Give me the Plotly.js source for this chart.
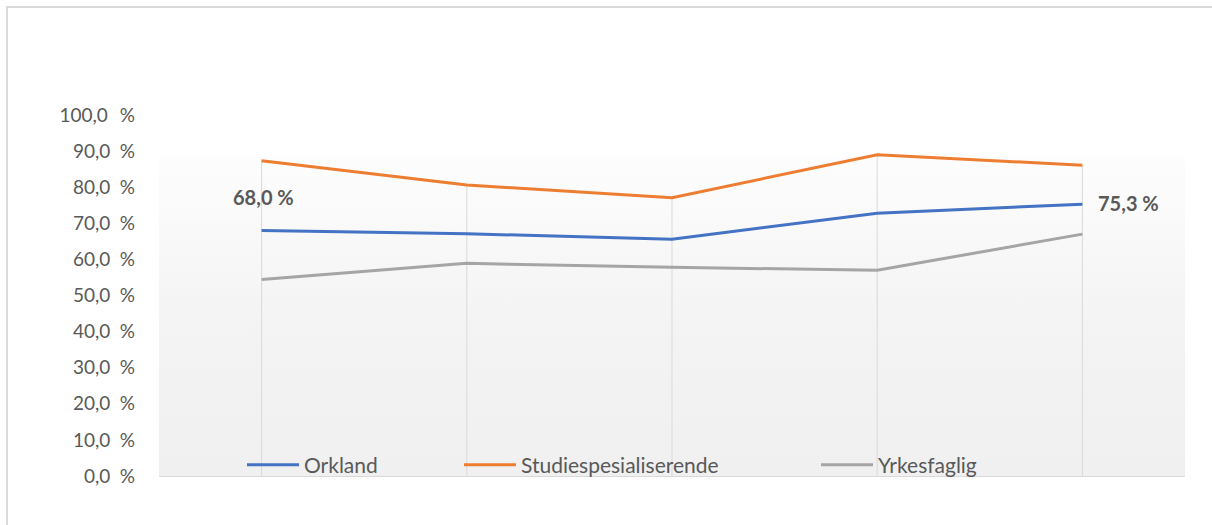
<!DOCTYPE html>
<html>
<head>
<meta charset="utf-8">
<script src="https://cdn.plot.ly/plotly-3.0.1.min.js"></script>
<style>
  html, body { margin: 0; padding: 0; background: #ffffff; }
  #wrap { position: relative; width: 1212px; height: 525px; overflow: hidden; }
  #chart { width: 1212px; height: 525px; }
  #frame { position: absolute; left: 6px; top: 6px; width: 1300px; height: 600px;
           border-top: 2px solid #dadada; border-left: 2px solid #dadada; pointer-events: none; }
</style>
</head>
<body>
<div id="wrap">
  <div id="chart"></div>
  <div id="frame"></div>
</div>
<script>
// Five measurement points along the x axis (no labels are shown)
const categories = [0, 1, 2, 3, 4];

// Share of students, in percent
const orkland = [68.0, 67.1, 65.6, 72.8, 75.3];
const studiespesialiserende = [87.3, 80.6, 77.1, 89.0, 86.1];
const yrkesfaglig = [54.4, 58.9, 57.8, 57.0, 67.0];

const seriesNames = ['Orkland', 'Studiespesialiserende', 'Yrkesfaglig'];
const yTicks = [0, 10, 20, 30, 40, 50, 60, 70, 80, 90, 100];

const colors = ['#4472C4', '#ED7D31', '#A5A5A5'];
const textColor = '#595959';
const fontFamily = 'Lato, "Open Sans", sans-serif';

const W = 1212, H = 525;
const M = { l: 159, r: 27, t: 115, b: 49 };
const plotW = W - M.l - M.r;
const plotH = H - M.t - M.b;
const px2paperX = px => (px - M.l) / plotW;
const px2paperY = py => (H - M.b - py) / plotH;

const allSeries = [orkland, studiespesialiserende, yrkesfaglig];

// Drop lines from the highest series at each point down to the axis
const dropX = [], dropY = [];
categories.forEach((c, i) => {
  const top = Math.max(...allSeries.map(s => s[i]));
  dropX.push(c, c, null);
  dropY.push(0, top, null);
});

const traces = [{
  x: dropX, y: dropY, type: 'scatter', mode: 'lines',
  line: { color: '#d9d9d9', width: 1 },
  hoverinfo: 'skip', showlegend: false
}];

const legendIds = ['legend', 'legend2', 'legend3'];
allSeries.forEach((s, k) => {
  traces.push({
    x: categories, y: s, type: 'scatter', mode: 'lines',
    name: seriesNames[k],
    line: { color: colors[k], width: 3 },
    legend: legendIds[k]
  });
});

const fmt = v => v.toFixed(1).replace('.', ',') + ' %';
const tickText = yTicks.map(v => v.toFixed(1).replace('.', ',') + (v === 100 ? '\u2002\u2009%' : '\u2002%'));

// Value labels on the first and last Orkland points
const last = categories.length - 1;
const labelFont = { family: fontFamily, size: 20, color: textColor };
const annotations = [
  { x: categories[0], y: orkland[0], xref: 'x', yref: 'y', text: '<b>' + fmt(orkland[0]) + '</b>',
    showarrow: false, yshift: 34, xshift: 2, font: labelFont },
  { x: categories[last], y: orkland[last], xref: 'x', yref: 'y', text: '<b>' + fmt(orkland[last]) + '</b>',
    showarrow: false, xanchor: 'left', xshift: 14, yshift: 1, font: labelFont }
];

// Soft vertical gradient for the plot background
const gradSvg = '<svg xmlns="http://www.w3.org/2000/svg" width="10" height="100" preserveAspectRatio="none">' +
  '<defs><linearGradient id="g" x1="0" y1="0" x2="0" y2="1">' +
  '<stop offset="0" stop-color="#fdfdfd"/><stop offset="0.55" stop-color="#f3f3f3"/><stop offset="1" stop-color="#f0f0f0"/>' +
  '</linearGradient></defs><rect width="10" height="100" fill="url(#g)"/></svg>';
const bgTop = px2paperY(157);

const legendBase = {
  orientation: 'h', yanchor: 'middle', xanchor: 'left',
  y: px2paperY(465), bgcolor: 'rgba(0,0,0,0)', borderwidth: 0,
  font: { family: fontFamily, size: 21, color: textColor }, itemwidth: 52
};
const legendX = [242, 459, 816];

const layout = {
  width: W, height: H,
  margin: M,
  paper_bgcolor: 'rgba(0,0,0,0)',
  plot_bgcolor: 'rgba(0,0,0,0)',
  font: { family: fontFamily, size: 19, color: textColor },
  xaxis: {
    type: 'linear', range: [-0.5, 4.5], showticklabels: false, showgrid: false,
    zeroline: false, showline: true, linecolor: '#d9d9d9', linewidth: 1, ticks: '', fixedrange: true
  },
  yaxis: {
    range: [0, 100], tickmode: 'array', tickvals: yTicks, ticktext: tickText,
    showgrid: false, zeroline: false, showline: false, ticks: '',
    ticklabelstandoff: 23, tickfont: { family: fontFamily, size: 19, color: textColor }, fixedrange: true
  },
  images: [{
    source: 'data:image/svg+xml;utf8,' + encodeURIComponent(gradSvg),
    xref: 'paper', yref: 'paper', x: 0, y: bgTop, sizex: 1, sizey: bgTop,
    xanchor: 'left', yanchor: 'top', sizing: 'stretch', layer: 'below'
  }],
  annotations: annotations,
  legend: Object.assign({}, legendBase, { x: px2paperX(legendX[0]) }),
  legend2: Object.assign({}, legendBase, { x: px2paperX(legendX[1]) }),
  legend3: Object.assign({}, legendBase, { x: px2paperX(legendX[2]) })
};

Plotly.newPlot('chart', traces, layout, { displayModeBar: false, staticPlot: true });
</script>
</body>
</html>
